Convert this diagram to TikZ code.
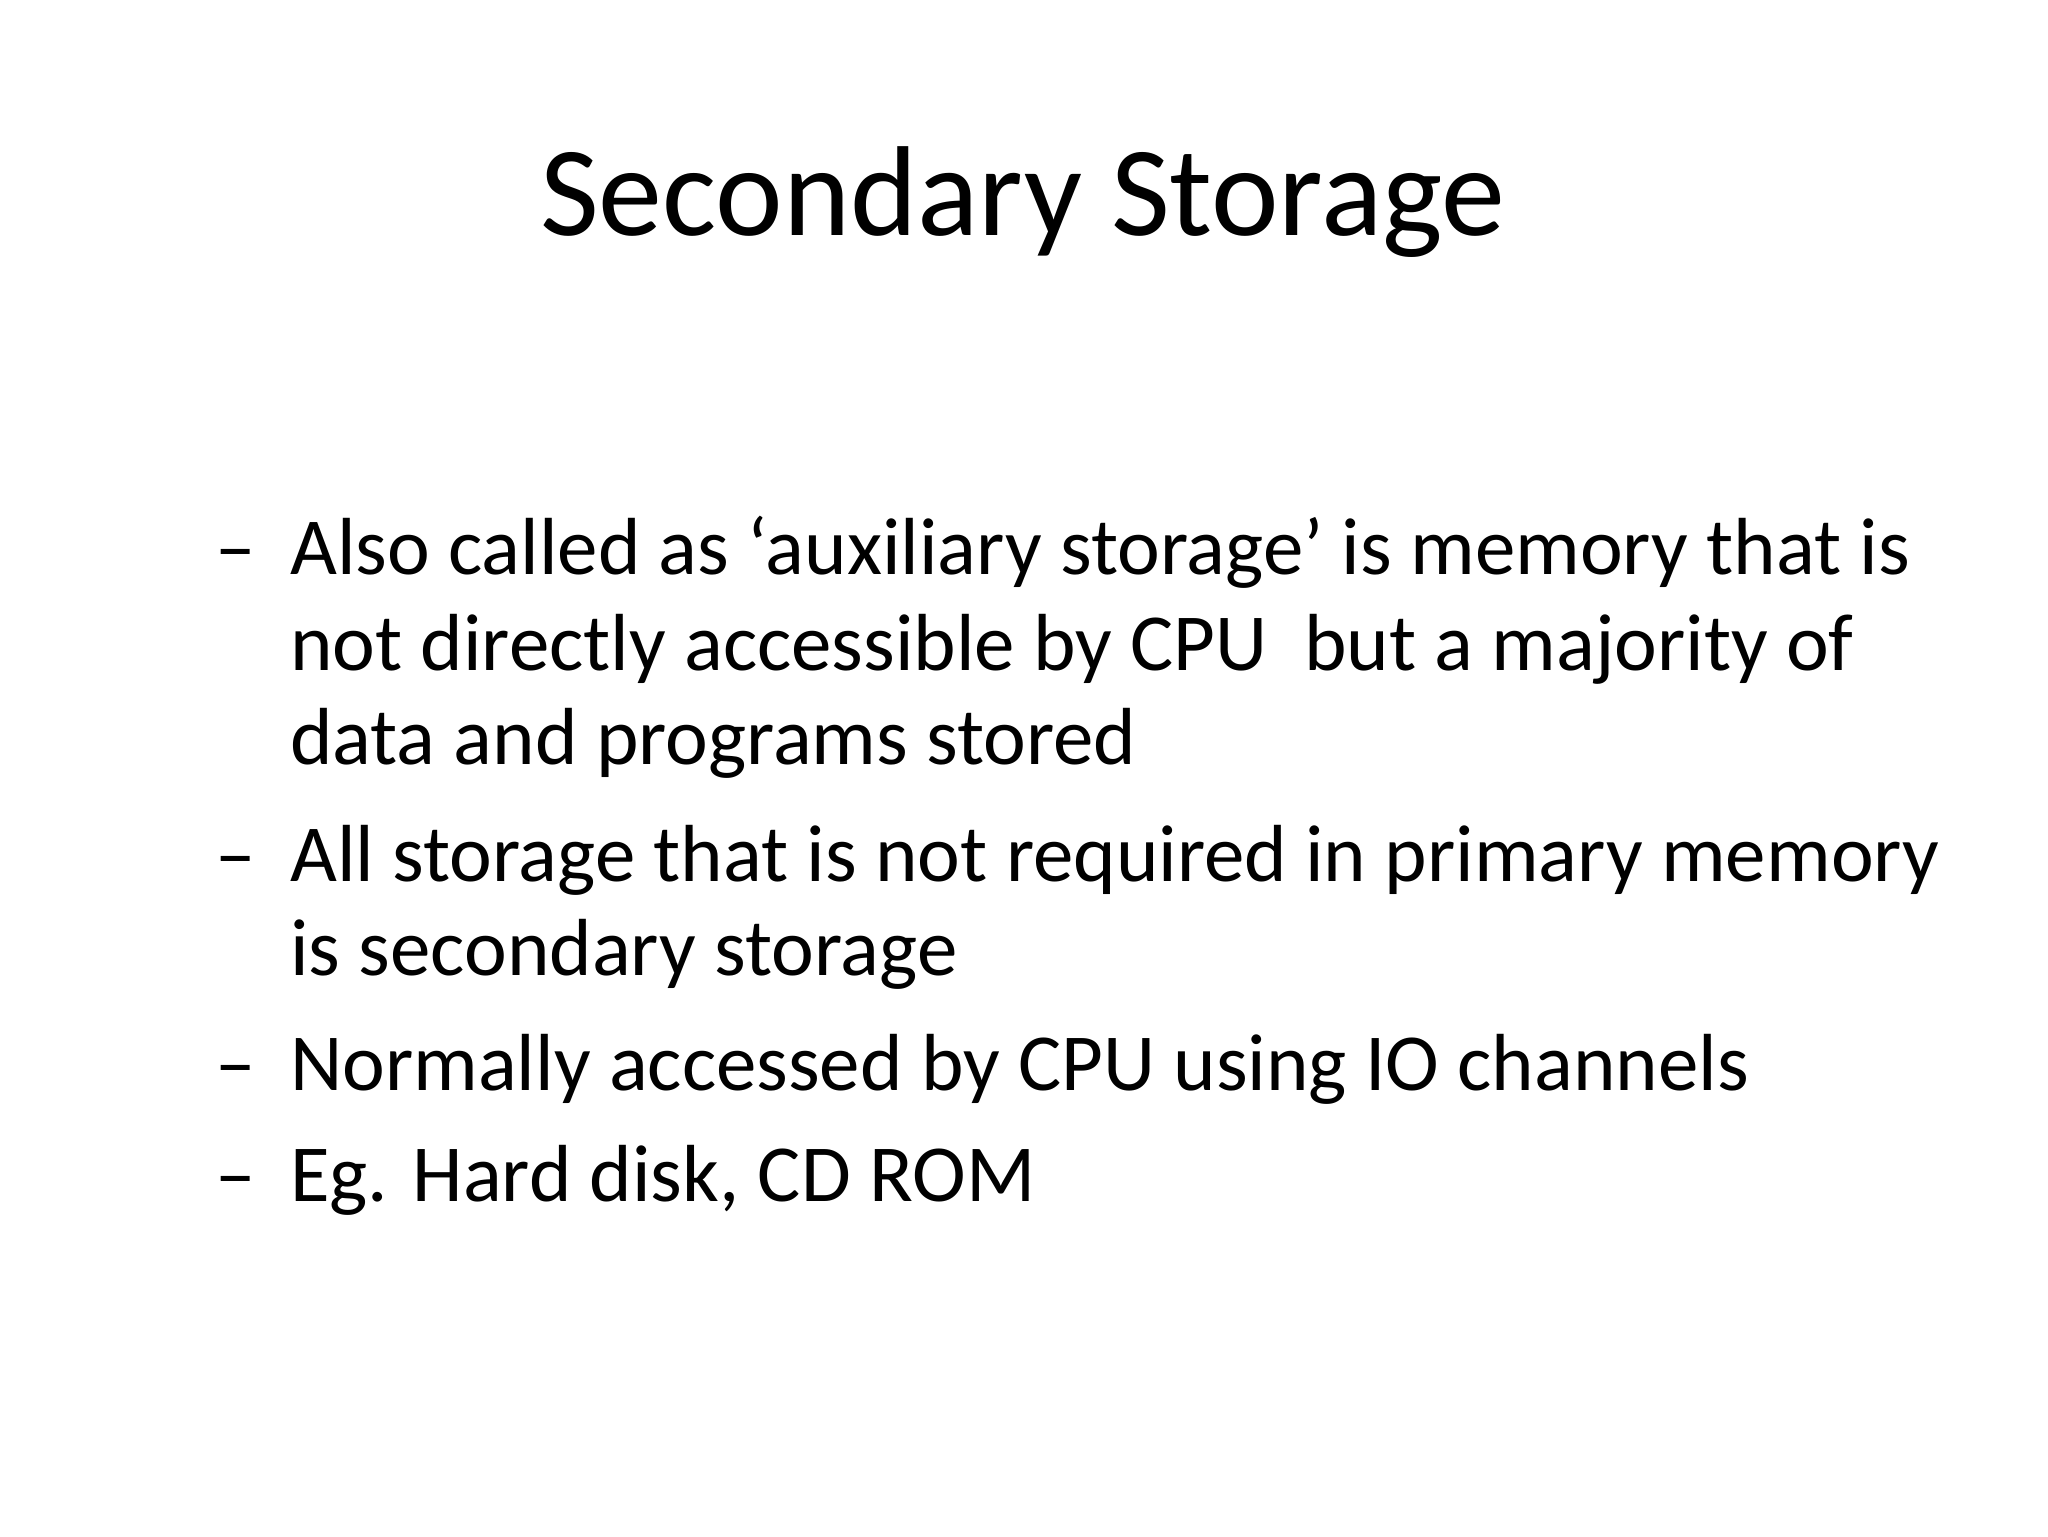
\documentclass[tikz,border=0pt]{standalone}
\usepackage{fontspec}
\setmainfont{Carlito}
\begin{document}
\begin{tikzpicture}[x=1pt,y=-1pt,
  body/.style={anchor=base west,inner sep=0pt,font=\fontsize{62}{74}\selectfont},
  dashmark/.style={anchor=base west,inner sep=0pt,font=\fontsize{62}{74}\selectfont}]
\useasboundingbox[fill=white] (0,0) rectangle (1568,1176);
\node[anchor=base,inner sep=0pt,font=\fontsize{98}{110}\selectfont] (title) at (783,180) {Secondary Storage};
\node[dashmark] (d1) at (165,440) {–};
\node[body] (l1) at (222,440) {Also called as ‘auxiliary storage’ is memory that is};
\node[body] (l2) at (222,513) {not directly accessible by CPU\ \ but a majority of};
\node[body] (l3) at (222,585) {data and programs stored};
\node[dashmark] (d2) at (165,675) {–};
\node[body] (l4) at (222,675) {All storage that is not required in primary memory};
\node[body] (l5) at (222,747) {is secondary storage};
\node[dashmark] (d3) at (165,835) {–};
\node[body] (l6) at (222,835) {Normally accessed by CPU using IO channels};
\node[dashmark] (d4) at (165,920) {–};
\node[body] (l7) at (222,920) {Eg. Hard disk, CD ROM};
\end{tikzpicture}
\end{document}
